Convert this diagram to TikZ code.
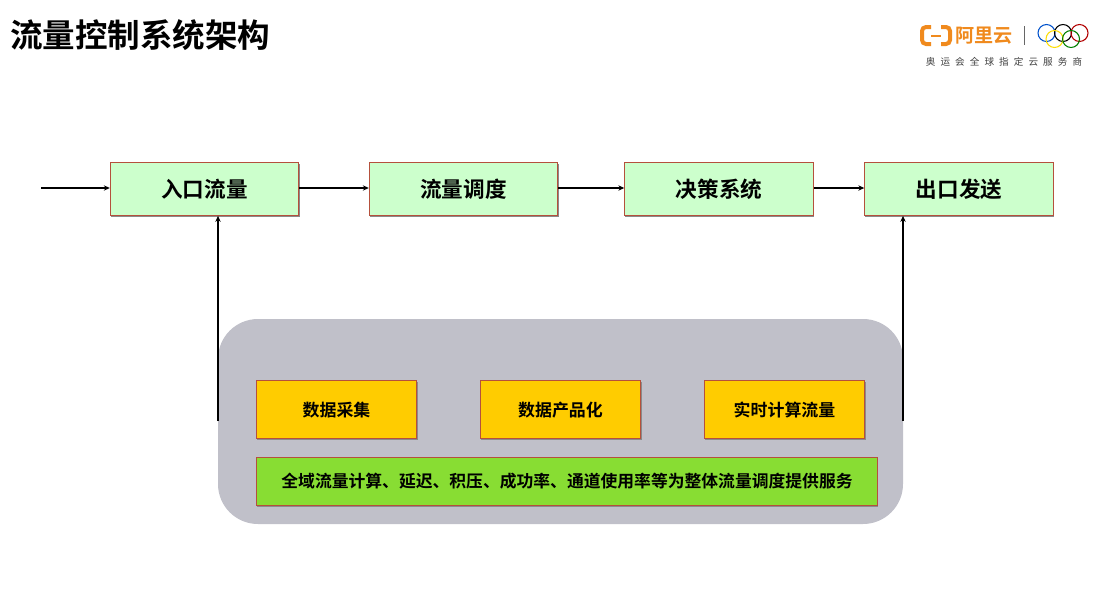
\documentclass[tikz,border=0pt]{standalone}
\usepackage{fontspec}
\setmainfont{Noto Sans CJK SC}
\newfontfamily\cjkb{Noto Sans CJK SC Bold}
\usetikzlibrary{arrows.meta}
\definecolor{flowgreen}{HTML}{CCFFCC}
\definecolor{boxedge}{HTML}{B5503C}
\definecolor{panelgray}{HTML}{C0C0C9}
\definecolor{amber}{HTML}{FFCC00}
\definecolor{lime}{HTML}{88DD33}
\definecolor{aliorange}{HTML}{F08A1D}
\definecolor{softshadow}{HTML}{8A8A8A}
\tikzset{
  x=0.75pt,y=-0.75pt,
  boxbase/.style={draw=boxedge,line width=0.55pt,inner sep=0pt,
    preaction={draw=none,fill=softshadow,transform canvas={xshift=0.6pt,yshift=-1.3pt}}},
  flowbox/.style={boxbase,fill=flowgreen,minimum width=141.5pt,minimum height=39.75pt,
    font=\cjkb\fontsize{16.2}{18}\selectfont},
  databoxa/.style={boxbase,fill=amber,minimum width=120.5pt,minimum height=43.5pt,
    font=\cjkb\fontsize{12.7}{15}\selectfont},
  databoxb/.style={boxbase,fill=lime,minimum width=466pt,minimum height=36pt,
    font=\cjkb\fontsize{12.6}{15}\selectfont},
  panel/.style={fill=panelgray,rounded corners=30pt,minimum width=513.75pt,minimum height=153.75pt,inner sep=0pt},
  flowline/.style={draw=black,line width=0.85pt,-{Stealth[length=4.5pt,width=4pt]}},
  ring/.style={draw,line width=0.8pt},
}
\begin{document}
\begin{tikzpicture}
\useasboundingbox (0,0) rectangle (1117,600);
\fill[white] (0,0) rectangle (1117,600);
\node[anchor=west,inner sep=0pt,font=\cjkb\fontsize{24.4}{28}\selectfont] (title) at (10,35) {流量控制系统架构};

% logo
\node[anchor=west,inner sep=0pt,text=aliorange,font=\cjkb\fontsize{14.3}{18}\selectfont] (aliname) at (955,35.5) {阿里云};
\draw[aliorange,line width=3pt,rounded corners=3pt] (931,27) -- (922,27) -- (922,44) -- (931,44);
\draw[aliorange,line width=3pt,rounded corners=3pt] (941,27) -- (950,27) -- (950,44) -- (941,44);
\draw[aliorange,line width=1.6pt] (931,36) -- (941,36);
\draw[black!60,line width=0.5pt] (1024,26) -- (1024,45);
\draw[ring,blue!60!cyan!80!black] (1046.5,33) circle (8.5);
\draw[ring,black] (1063,33) circle (8.5);
\draw[ring,red!70!black] (1079.5,33) circle (8.5);
\draw[ring,yellow!80!orange] (1054.5,39) circle (8.5);
\draw[ring,green!50!black] (1071,39) circle (8.5);
\node[inner sep=0pt,font=\fontsize{7.2}{9}\selectfont,text=black!75] (slogan) at (1004,62) {奥\hspace{3.8pt}运\hspace{3.8pt}会\hspace{3.8pt}全\hspace{3.8pt}球\hspace{3.8pt}指\hspace{3.8pt}定\hspace{3.8pt}云\hspace{3.8pt}服\hspace{3.8pt}务\hspace{3.8pt}商};

% flow row
\node[flowbox] (entry) at (204.5,189) {\raisebox{1.1pt}{入口流量}};
\node[flowbox] (sched) at (463.5,189) {\raisebox{1.1pt}{流量调度}};
\node[flowbox] (decide) at (719,189) {\raisebox{1.1pt}{决策系统}};
\node[flowbox] (send) at (959,189) {\raisebox{1.1pt}{出口发送}};
\coordinate (start) at (41,188);
\draw[flowline] (start) -- (entry.west |- start);
\draw[flowline] (entry.east |- start) -- (sched.west |- start);
\draw[flowline] (sched.east |- start) -- (decide.west |- start);
\draw[flowline] (decide.east |- start) -- (send.west |- start);

% service panel
\node[panel] (service) at (560.5,421.5) {};
\coordinate (leftfoot) at (218,421);
\coordinate (rightfoot) at (903,421);
\draw[flowline] (leftfoot) -- (leftfoot |- entry.south);
\draw[flowline] (rightfoot) -- (rightfoot |- send.south);

\node[databoxa] (collect) at (336.5,409.7) {数据采集};
\node[databoxa] (product) at (560.5,409.7) {数据产品化};
\node[databoxa] (realtime) at (784.5,409.7) {实时计算流量};
\node[databoxb] (global) at (567,481.5) {全域流量计算、延迟、积压、成功率、通道使用率等为整体流量调度提供服务};
\end{tikzpicture}
\end{document}
